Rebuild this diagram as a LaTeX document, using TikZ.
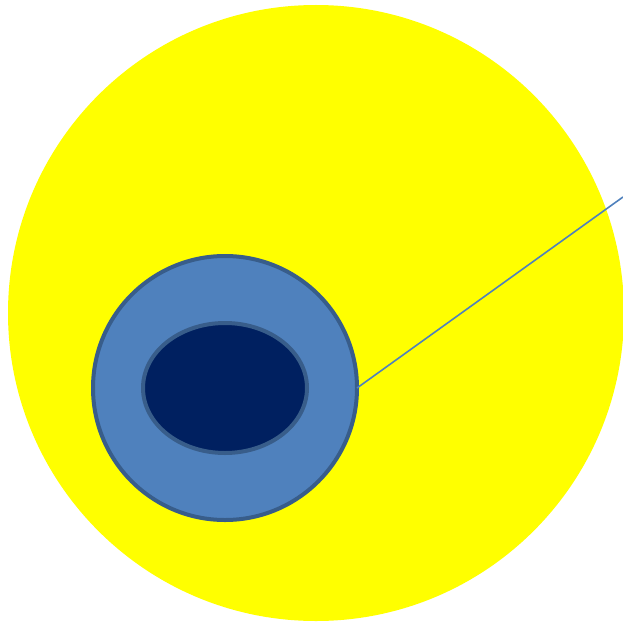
\documentclass[tikz,border=0pt]{standalone}
\usetikzlibrary{shapes.geometric}
\definecolor{sun}{HTML}{FFFF00}
\definecolor{midblue}{HTML}{4F81BD}
\definecolor{edgeblue}{HTML}{385D8A}
\definecolor{navy}{HTML}{002060}
\begin{document}
\begin{tikzpicture}[x=1pt,y=-1pt,
  outerdisc/.style={circle,fill=sun,draw=none,inner sep=0pt,minimum size=616pt},
  ringdisc/.style={circle,fill=midblue,draw=edgeblue,line width=4pt,inner sep=0pt,minimum size=264pt,outer sep=0pt},
  coredisc/.style={ellipse,fill=navy,draw=edgeblue,line width=4pt,inner sep=0pt,minimum width=164pt,minimum height=130pt},
  pointer/.style={draw=midblue,line width=1.6pt}]
\useasboundingbox (0,0) rectangle (623,623);
\node[outerdisc] (sun) at (316,313) {};
\node[ringdisc] (ring) at (225,388) {};
\node[coredisc] (core) at (225,388) {};
\coordinate (tip) at (623,197);
\draw[pointer] (ring.east) -- (tip);
\end{tikzpicture}
\end{document}
